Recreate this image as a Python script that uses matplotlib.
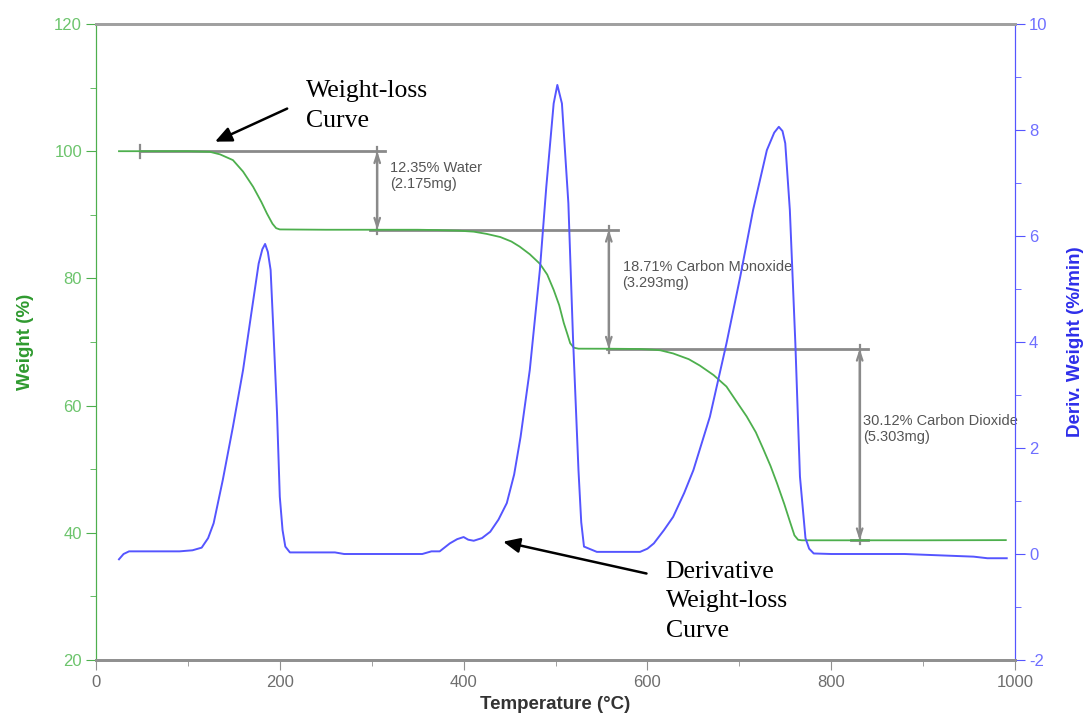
import matplotlib.pyplot as plt
from matplotlib.ticker import MultipleLocator

# weight-loss curve (left axis, %)
temp_w = [25, 50, 100, 124, 135, 149, 160, 171, 180, 186, 192, 196, 200, 250,
          300, 350, 371, 395, 411, 425, 440, 452, 461, 472, 483, 491, 498, 504,
          509, 513, 516, 520, 525, 560, 592, 605, 614, 628, 645, 657, 672, 686,
          700, 708, 718, 726, 734, 741, 749, 755, 760, 764, 768, 800, 900, 990]
weight = [100, 100, 100, 99.9, 99.5, 98.6, 96.8, 94.4, 92.0, 90.2, 88.6, 87.9,
          87.7, 87.65, 87.65, 87.65, 87.6, 87.5, 87.35, 87.0, 86.5, 85.8, 85.0,
          83.8, 82.3, 80.6, 78.2, 75.8, 73.0, 71.2, 69.8, 69.1, 68.95, 68.94,
          68.9, 68.8, 68.7, 68.2, 67.3, 66.3, 64.8, 63.0, 60.0, 58.3, 55.8,
          53.2, 50.5, 47.8, 44.5, 41.8, 39.6, 38.9, 38.82, 38.82, 38.82, 38.85]

# derivative curve (right axis, %/min)
temp_d = [25, 30, 36, 60, 91, 105, 115, 122, 128, 138, 149, 160, 169, 177,
          181, 184, 187, 190, 193, 197, 200, 203, 206, 211, 260, 270, 355, 365,
          374, 385, 393, 400, 405, 411, 420, 429, 438, 447, 455, 462, 472, 483,
          490, 498, 502, 507, 514, 519, 525, 528, 531, 545, 592, 600, 607, 618,
          628, 640, 650, 668, 686, 701, 715, 730, 738, 743, 747, 750, 755, 761,
          766, 772, 776, 781, 800, 880, 955, 970, 991]
deriv = [-0.1, 0.0, 0.05, 0.05, 0.05, 0.07, 0.12, 0.3, 0.58, 1.4, 2.4, 3.47,
         4.54, 5.48, 5.75, 5.85, 5.7, 5.36, 4.23, 2.65, 1.08, 0.45, 0.14, 0.03,
         0.03, 0.0, 0.0, 0.05, 0.05, 0.2, 0.28, 0.32, 0.27, 0.25, 0.3, 0.42,
         0.65, 0.96, 1.5, 2.21, 3.47, 5.36, 6.93, 8.5, 8.85, 8.5, 6.62, 4.1,
         1.58, 0.6, 0.14, 0.04, 0.04, 0.1, 0.2, 0.45, 0.7, 1.15, 1.58, 2.59,
         3.97, 5.23, 6.49, 7.62, 7.95, 8.06, 7.98, 7.75, 6.49, 3.97, 1.46, 0.3,
         0.1, 0.01, 0.0, 0.0, -0.05, -0.08, -0.08]

# step annotations
step_levels = [100.0, 87.65, 68.94, 38.82]
step_x = [306, 558, 831]
line_start = [48, 298, 556]
line_end = [314, 568, 840]
label_x = [320, 573, 835]
label_y = [96.1, 80.5, 56.3]
step_labels = ["12.35% Water\n(2.175mg)",
               "18.71% Carbon Monoxide\n(3.293mg)",
               "30.12% Carbon Dioxide\n(5.303mg)"]

GREEN = "#4daf4d"
GREEN_TXT = "#6cc46c"
GREEN_LBL = "#2f9a2f"
BLUE = "#5555ff"
BLUE_TXT = "#6f6fff"
BLUE_LBL = "#2e2eea"
GRAY = "#8a8a8a"
SERIF = ["Liberation Serif", "DejaVu Serif"]

plt.rcParams["font.family"] = ["Liberation Sans", "DejaVu Sans"]
plt.rcParams["axes.unicode_minus"] = False

fig, ax = plt.subplots(figsize=(10.86, 7.2), dpi=100)
fig.subplots_adjust(left=96 / 1086, right=1015 / 1086, bottom=60 / 720, top=696 / 720)
ax2 = ax.twinx()

ax.plot(temp_w, weight, color=GREEN, lw=1.3, zorder=3)
ax2.plot(temp_d, deriv, color=BLUE, lw=1.4)

ax.set_xlim(0, 1000)
ax.set_ylim(20, 120)
ax2.set_ylim(-2, 10)

ax.xaxis.set_major_locator(MultipleLocator(200))
ax.xaxis.set_minor_locator(MultipleLocator(100))
ax.yaxis.set_major_locator(MultipleLocator(20))
ax.yaxis.set_minor_locator(MultipleLocator(10))
ax2.yaxis.set_major_locator(MultipleLocator(2))
ax2.yaxis.set_minor_locator(MultipleLocator(1))

for a in (ax, ax2):
    a.spines["left"].set_color(GREEN)
    a.spines["right"].set_color(BLUE)
    a.spines["top"].set_color("#a0a0a0")
    a.spines["bottom"].set_color("#909090")
    a.spines["top"].set_linewidth(2)
    a.spines["bottom"].set_linewidth(2)

ax.tick_params(axis="x", which="major", length=7, colors="#909090", labelcolor="#6e6e6e",
               labelsize=12, pad=4)
ax.tick_params(axis="x", which="minor", length=4, colors="#909090")
ax.tick_params(axis="y", which="major", length=7, colors=GREEN, labelcolor=GREEN_TXT,
               labelsize=12, pad=3)
ax.tick_params(axis="y", which="minor", length=4, colors=GREEN)
ax2.tick_params(axis="y", which="major", length=7, colors=BLUE, labelcolor=BLUE_TXT,
                labelsize=12, pad=3)
ax2.tick_params(axis="y", which="minor", length=4, colors=BLUE)

ax.set_xlabel("Temperature (°C)", fontsize=13.5, fontweight="bold", color="#333333")
ax.set_ylabel("Weight (%)", fontsize=13.5, fontweight="bold", color=GREEN_LBL)
ax2.set_ylabel("Deriv. Weight (%/min)", fontsize=13.5, fontweight="bold", color=BLUE_LBL)
ax.xaxis.set_label_coords(0.5, -0.056)
ax.yaxis.set_label_coords(-0.068, 0.5)
ax2.yaxis.set_label_coords(1.057, 0.5)

# step lines and arrows
for i in range(3):
    ax.plot([line_start[i], line_end[i]], [step_levels[i], step_levels[i]],
            color=GRAY, lw=2, zorder=2)
    ax.annotate("", xy=(step_x[i], step_levels[i + 1]), xytext=(step_x[i], step_levels[i]),
                arrowprops=dict(arrowstyle="<->,head_length=0.6,head_width=0.2",
                                color=GRAY, lw=1.6, shrinkA=0, shrinkB=0), zorder=2)
    ax.plot([step_x[i], step_x[i]], [step_levels[i] + 0.6, step_levels[i + 1] - 0.6],
            color=GRAY, lw=1.6, zorder=2)
    ax.text(label_x[i], label_y[i], step_labels[i], fontsize=10.5, color="#555555",
            va="center", ha="left", linespacing=1.2)
ax.plot([822, 840], [step_levels[3], step_levels[3]], color=GRAY, lw=2, zorder=2)
ax.plot([line_start[0], line_start[0]], [99.0, 101.0], color=GRAY, lw=1.6, zorder=2)

# curve callouts
arrow_style = dict(arrowstyle="-|>,head_length=1.0,head_width=0.45",
                   color="black", lw=1.8, shrinkA=0, shrinkB=0)
ax.text(228.5, 103.85, "Weight-loss\nCurve", fontsize=18.5, family=SERIF,
        va="baseline", ha="left", linespacing=1.45)
ax.annotate("", xy=(129.5, 101.5), xytext=(208, 106.7), arrowprops=arrow_style)
ax.text(620, 23.6, "Derivative\nWeight-loss\nCurve", fontsize=18.5, family=SERIF,
        va="baseline", ha="left", linespacing=1.45)
ax.annotate("", xy=(443, 38.6), xytext=(599, 33.6), arrowprops=arrow_style)

fig.savefig("out.png", dpi=100)
